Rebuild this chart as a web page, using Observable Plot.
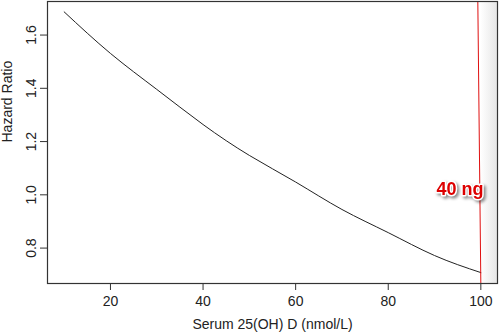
<!DOCTYPE html>
<html>
<head>
<meta charset="utf-8">
<script src="https://cdn.jsdelivr.net/npm/d3@7"></script>
<script src="https://cdn.jsdelivr.net/npm/@observablehq/plot@0.6"></script>
<style>
  html, body { margin: 0; padding: 0; background: #fff; }
  #chart svg { display: block; }
</style>
</head>
<body>
<div id="chart"></div>
<script>
// Curve: serum 25(OH)D (nmol/L) vs hazard ratio
const serum = [10, 20, 30, 40, 50, 60, 70, 80, 90, 100];
const hazard = [1.687, 1.531, 1.396, 1.264, 1.148, 1.048, 0.945, 0.858, 0.772, 0.708];

const xTicks = [20, 40, 60, 80, 100];
const yTicks = [0.8, 1.0, 1.2, 1.4, 1.6];

// Hand-drawn annotation line (slightly slanted) and label
const markerX = [99.35, 100];
const markerY = [1.726, 0.667];
const markerLabel = ["40 ng"];
const markerLabelPos = [95.5, 1.021];

const curve = serum.map((s, i) => ({s, h: hazard[i]}));
const marker = [{x1: markerX[0], y1: markerY[0], x2: markerX[1], y2: markerY[1]}];

const font = "'Liberation Sans', Arial, sans-serif";

const plot = Plot.plot({
  width: 499,
  height: 332,
  marginLeft: 47,
  marginRight: 2,
  marginTop: 1,
  marginBottom: 49,
  style: {fontFamily: font, fontSize: "14px", color: "#222", background: "#fff"},
  x: {domain: [6.4, 103.6]},
  y: {domain: [0.667, 1.726]},
  marks: [
    Plot.rect([0], {x1: markerX[1], x2: 103.6, y1: markerY[1], y2: markerY[0], fill: "url(#shadeGrad)"}),
    Plot.axisX({ticks: xTicks, tickSize: 7, tickPadding: 6, fontSize: 14, stroke: "#333", label: null, tickFormat: d3.format("d")}),
    Plot.axisY({ticks: yTicks, tickSize: 7, tickPadding: 5, fontSize: 14, stroke: "#333", label: null, tickRotate: -90, tickFormat: d3.format(".1f")}),
    Plot.text(["Serum 25(OH) D (nmol/L)"], {frameAnchor: "bottom", dy: 41, lineAnchor: "middle", fontSize: 14, fill: "#222"}),
    Plot.text(["Hazard Ratio"], {frameAnchor: "left", dx: -40, rotate: -90, lineAnchor: "middle", fontSize: 14, fill: "#222"}),
    Plot.line(curve, {x: "s", y: "h", stroke: "#222", strokeWidth: 1, curve: "natural"}),
    Plot.link(marker, {x1: "x1", y1: "y1", x2: "x2", y2: "y2", stroke: "#e01010", strokeWidth: 1}),
    Plot.text(markerLabel, {x: markerLabelPos[0], y: markerLabelPos[1], text: d => d, fill: "#dd0000", stroke: "#fff", strokeWidth: 3, fontSize: 18, fontWeight: "bold", lineAnchor: "middle", textAnchor: "middle"}),
    Plot.frame({stroke: "#333", strokeWidth: 1.2})
  ]
});

const svg = d3.select(plot);
const defs = svg.insert("defs", ":first-child");
const g = defs.append("linearGradient").attr("id", "shadeGrad").attr("x1", "0").attr("x2", "1").attr("y1", "0").attr("y2", "0");
g.append("stop").attr("offset", "0").attr("stop-color", "#ffffff");
g.append("stop").attr("offset", "1").attr("stop-color", "#e6e6e6");

// drop shadow on the annotation label
svg.selectAll('g[aria-label="text"]').filter(function() {
  return d3.select(this).text().includes("40 ng");
}).style("filter", "drop-shadow(2px 2px 1.5px rgba(0,0,0,0.45))");

document.getElementById("chart").appendChild(plot);
</script>
</body>
</html>
